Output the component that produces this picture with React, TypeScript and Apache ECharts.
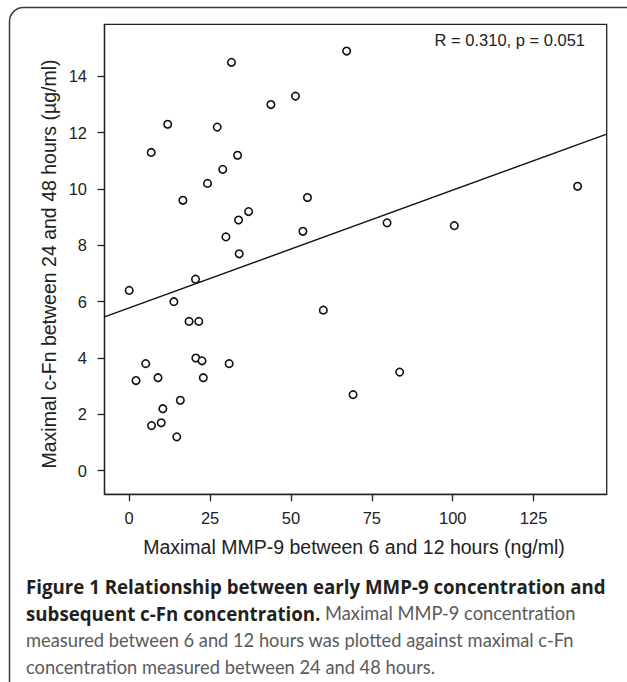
import React, { useEffect, useRef } from "react";
import * as echarts from "echarts";

// Maximal MMP-9 between 6 and 12 hours (ng/ml)
const mmp9 = [0, 2.1, 5.1, 6.9, 6.8, 8.9, 9.9, 10.4, 11.9, 13.8, 14.7, 15.8, 16.6, 18.5, 20.6, 20.5, 21.5, 22.5, 22.9, 24.2, 27.2, 28.9, 29.9, 30.9, 31.6, 33.5, 33.8, 34.0, 36.9, 43.8, 51.4, 53.7, 55.1, 60.0, 67.2, 69.2, 79.7, 83.6, 100.5, 138.6];
// Maximal c-Fn between 24 and 48 hours (µg/ml)
const cfn = [6.4, 3.2, 3.8, 1.6, 11.3, 3.3, 1.7, 2.2, 12.3, 6.0, 1.2, 2.5, 9.6, 5.3, 4.0, 6.8, 5.3, 3.9, 3.3, 10.2, 12.2, 10.7, 8.3, 3.8, 14.5, 11.2, 8.9, 7.7, 9.2, 13.0, 13.3, 8.5, 9.7, 5.7, 14.9, 2.7, 8.8, 3.5, 8.7, 10.1];

const xTicks = [0, 25, 50, 75, 100, 125];
const yTicks = [0, 2, 4, 6, 8, 10, 12, 14];
const yStep = 2;

const xRange = [-7.64, 147.6];
const yRange = [-0.84, 15.85];

// regression line
const fitIntercept = 5.78;
const fitSlope = 0.0418;

const statText = "R = 0.310, p = 0.051";
const xTitle = "Maximal MMP-9 between 6 and 12 hours (ng/ml)";
const yTitle = "Maximal c-Fn between 24 and 48 hours (µg/ml)";
const captionLines = [
  [["b", "Figure 1 Relationship between early MMP-9 concentration and"]],
  [["b", "subsequent c-Fn concentration."], ["n", " Maximal MMP-9 concentration"]],
  [["n", "measured between 6 and 12 hours was plotted against maximal c-Fn"]],
  [["n", "concentration measured between 24 and 48 hours."]],
];

export default function App() {
  const ref = useRef<HTMLDivElement>(null);
  useEffect(() => {
    if (!ref.current) return;
    const chart = echarts.init(ref.current, null, { renderer: "svg" });
    const axisFont = "'Liberation Sans', Arial, Helvetica, sans-serif";
    const boldFont = "'Open Sans', Lato, sans-serif";
    const capFont = "Lato, 'Open Sans', sans-serif";
    const ink = "#222";
    const points = mmp9.map((x, i) => [x, cfn[i]]);
    const fit = xRange.map((x) => [x, fitIntercept + fitSlope * x]);

    const captionGraphics = captionLines.map((segs, i) => ({
      type: "text",
      x: 26,
      y: 586 + i * 27,
      style: {
        text: segs.map(([k, t]) => `{${k}|${t}}`).join(""),
        verticalAlign: "middle",
        align: "left",
        rich: {
          b: { fontFamily: boldFont, fontWeight: "bold", fontSize: 18.7, fill: "#231f20" },
          n: { fontFamily: capFont, fontWeight: "normal", fontSize: 18.3, fill: "#5a5a5c" },
        },
      },
    }));

    chart.setOption({
      animation: false,
      grid: {
        left: 104.5,
        right: 20.3,
        top: 24.3,
        bottom: 187.7,
        show: true,
        borderColor: ink,
        borderWidth: 1.3,
        backgroundColor: "transparent",
      },
      xAxis: {
        type: "value",
        min: xRange[0],
        max: xRange[1],
        splitLine: { show: false },
        axisLine: { show: true, onZero: false, lineStyle: { color: ink, width: 1.3 } },
        axisTick: { show: true, customValues: xTicks, length: 7, lineStyle: { color: ink, width: 1.3 } },
        axisLabel: { customValues: xTicks, margin: 15, color: ink, fontSize: 16.5, fontFamily: axisFont },
      },
      yAxis: {
        type: "value",
        min: yRange[0],
        max: yRange[1],
        minInterval: yStep,
        maxInterval: yStep,
        splitLine: { show: false },
        axisLine: { show: true, onZero: false, lineStyle: { color: ink, width: 1.3 } },
        axisTick: { show: true, customValues: yTicks, length: 7, lineStyle: { color: ink, width: 1.3 } },
        axisLabel: {
          showMinLabel: false,
          showMaxLabel: false,
          rotate: 0,
          margin: 17.5,
          color: ink,
          fontSize: 16.5,
          fontFamily: axisFont,
          align: "right",
          verticalAlign: "middle",
        },
      },
      series: [
        {
          type: "line",
          data: fit,
          symbol: "none",
          lineStyle: { color: "#111", width: 1.4 },
          z: 2,
          silent: true,
        },
        {
          type: "scatter",
          data: points,
          symbol: "circle",
          symbolSize: 7.5,
          itemStyle: { color: "#fff", borderColor: "#111", borderWidth: 1.6, opacity: 1 },
          z: 3,
        },
      ],
      graphic: [
        {
          type: "rect",
          shape: { x: 9.5, y: 7.5, width: 700, height: 720, r: 14 },
          style: { fill: "none", stroke: "#3a3a3a", lineWidth: 1.5 },
          silent: true,
        },
        {
          type: "text",
          x: 585,
          y: 40,
          style: { text: statText, align: "right", verticalAlign: "middle", fontSize: 16.5, fontFamily: axisFont, fill: ink },
        },
        {
          type: "text",
          x: 354,
          y: 547,
          style: { text: xTitle, align: "center", verticalAlign: "middle", fontSize: 19.5, fontFamily: axisFont, fill: ink },
        },
        {
          type: "text",
          x: 49,
          y: 264,
          rotation: Math.PI / 2,
          style: { text: yTitle, align: "center", verticalAlign: "middle", fontSize: 19.5, fontFamily: axisFont, fill: ink },
        },
        ...captionGraphics,
      ],
    });
    return () => chart.dispose();
  }, []);
  return (
    <div
      ref={ref}
      style={{ position: "absolute", left: 0, top: 0, width: 627, height: 682, background: "#fff" }}
    />
  );
}
